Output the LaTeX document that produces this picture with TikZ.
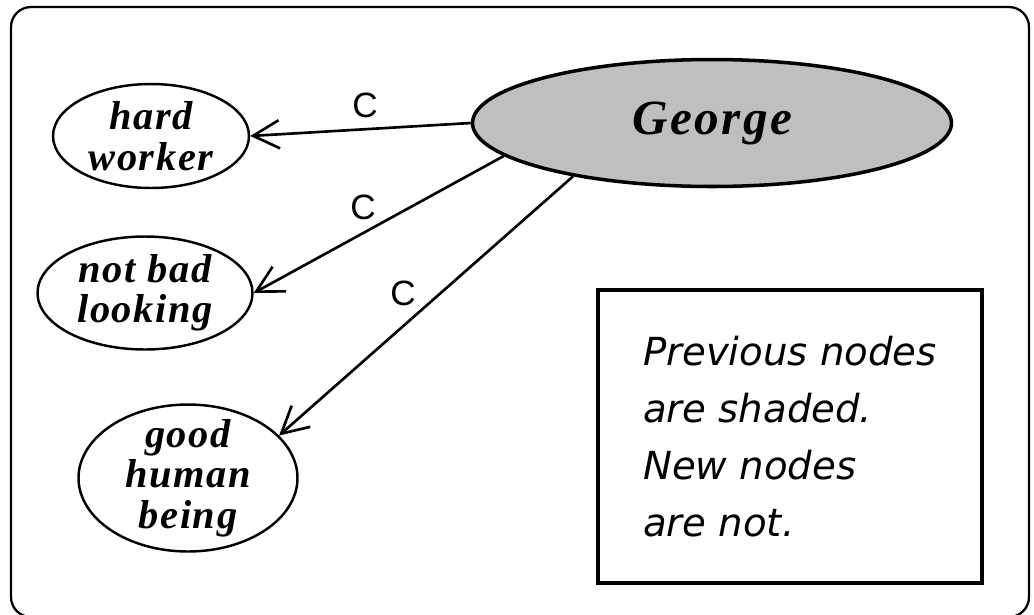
\documentclass[tikz,border=0pt]{standalone}
\usepackage{fontspec}
\setmainfont{Liberation Serif}
\newfontfamily\relfont{Liberation Sans}
\newfontfamily\notefont{DejaVu Sans}
\usetikzlibrary{shapes.geometric,arrows.meta}

\newcommand{\conceptfont}{\bfseries\itshape\fontsize{11.5}{11.5}\selectfont\addfontfeature{LetterSpace=4}}
\newcommand{\georgefont}{\bfseries\itshape\fontsize{14}{14}\selectfont\addfontfeature{LetterSpace=5}}

\begin{document}
\begin{tikzpicture}[x=0.1cm,y=-0.1cm,
	concept/.style={draw,ellipse,inner sep=0pt,line width=0.7pt},
	known/.style={concept,fill=black!25,line width=1pt},
	every label/.style={align=center,font=\conceptfont},
	rel/.style={line width=0.75pt,-{Straight Barb[length=7.5pt,width=8pt]}},
	relname/.style={font=\relfont\fontsize{10}{10}\selectfont},
	notebox/.style={draw,line width=1.4pt,align=left,minimum width=3.84cm,minimum height=2.93cm,
		font=\notefont\itshape\fontsize{11}{16.2}\selectfont}]
\useasboundingbox (0,0) rectangle (103.4,61.4);
\draw[line width=0.65pt,rounded corners=2mm] (1.1,0.7) rectangle (102.9,61.7);

\path (71.2,12.3) node[known,minimum width=4.79cm,minimum height=1.27cm,
			label={[font=\georgefont]center:George}] (george) {}
		(15.1,13.6) node[concept,minimum width=1.96cm,minimum height=1.04cm,
			label={center:hard\\worker}] (hard) {}
		(14.5,29.3) node[concept,minimum width=2.15cm,minimum height=1.13cm,
			label={center:not bad\\looking}] (notbad) {}
		(18.8,47.8) node[concept,minimum width=2.19cm,minimum height=1.47cm,
			label={center:good\\human\\being}] (good) {}
		(36.5,10.5) node[relname] (c1) {C}
		(36.3,20.7) node[relname] (c2) {C}
		(40.3,29.3) node[relname] (c3) {C}
		(79.0,43.65) node[notebox] (note) {Previous nodes\\are shaded.\\New nodes\\are not.}
		;

\draw[rel]	(george.west) -- (hard.east);
\draw[rel]	(george.189) -- (notbad.east);
\draw[rel]	(george.201) -- (good.25);
\end{tikzpicture}
\end{document}
